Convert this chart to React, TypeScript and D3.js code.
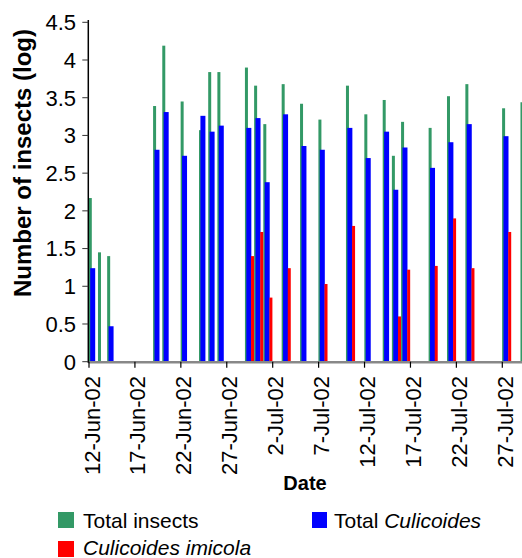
import React from "react";
import * as d3 from "d3";

// Sampling dates and log10 counts per trap night
const sampleDates = [
  "2002-06-12", "2002-06-13", "2002-06-14", "2002-06-19", "2002-06-20",
  "2002-06-22", "2002-06-24", "2002-06-25", "2002-06-26", "2002-06-29",
  "2002-06-30", "2002-07-01", "2002-07-03", "2002-07-05", "2002-07-07",
  "2002-07-10", "2002-07-12", "2002-07-14", "2002-07-15", "2002-07-16",
  "2002-07-19", "2002-07-21", "2002-07-23", "2002-07-27", "2002-07-29",
];
const totalInsects: (number | null)[] = [
  2.17, 1.45, 1.40, 3.39, 4.19, 3.45, 3.07, 3.84, 3.84, 3.90,
  3.66, 3.15, 3.68, 3.42, 3.21, 3.66, 3.28, 3.47, 2.73, 3.18,
  3.10, 3.52, 3.68, 3.36, 3.44,
];
const totalCulicoides: (number | null)[] = [
  1.24, null, 0.47, 2.81, 3.31, 2.73, 3.26, 3.05, 3.13, 3.10,
  3.23, 2.38, 3.28, 2.86, 2.81, 3.10, 2.70, 3.05, 2.28, 2.84,
  2.57, 2.91, 3.15, 2.99, null,
];
const culicoidesImicola: (number | null)[] = [
  null, null, null, null, null, null, null, null, null, 1.40,
  1.72, 0.85, 1.24, null, 1.03, 1.80, null, null, 0.60, 1.22,
  1.27, 1.90, 1.24, 1.72, null,
];
const yTicks = [0, 0.5, 1, 1.5, 2, 2.5, 3, 3.5, 4, 4.5];
const xTickDates = [
  "2002-06-12", "2002-06-17", "2002-06-22", "2002-06-27", "2002-07-02",
  "2002-07-07", "2002-07-12", "2002-07-17", "2002-07-22", "2002-07-27",
];

const W = 522;
const H = 558;
const FONT = "Arial, 'Liberation Sans', Helvetica, sans-serif";

const GREEN = "#339966";
const BLUE = "#0000FF";
const RED = "#FF0000";

const parse = d3.utcParse("%Y-%m-%d");
const fmt = d3.utcFormat("%-d-%b-%y");

const x = d3
  .scaleUtc()
  .domain([parse("2002-06-12")!, parse("2002-07-27")!])
  .range([89, 502.3]);
const y = d3.scaleLinear().domain([0, 4.5]).range([361.7, 22.3]);

const series = [
  { name: "green", values: totalInsects, color: GREEN, dx: -0.2, w: 3 },
  { name: "blue", values: totalCulicoides, color: BLUE, dx: 1.2, w: 5 },
  { name: "red", values: culicoidesImicola, color: RED, dx: 5.9, w: 3 },
];

export default function App() {
  const dates = sampleDates.map((d) => parse(d)!);
  const axisLeft = 88.3;
  const baseY = y(0);

  return (
    <svg
      width={W}
      height={H}
      style={{ position: "absolute", left: 0, top: 0, background: "#fff" }}
      fontFamily={FONT}
    >
      <rect x={0} y={0} width={W} height={H} fill="#fff" />

      {/* bars, drawn series by series so later series overlap earlier ones */}
      {series.map((s) => (
        <g key={s.name}>
          {s.values.map((v, i) =>
            v == null ? null : (
              <rect
                key={i}
                x={x(dates[i]) + s.dx}
                y={y(v)}
                width={s.w}
                height={baseY - y(v)}
                fill={s.color}
              />
            )
          )}
        </g>
      ))}

      {/* x axis */}
      <line x1={axisLeft} x2={W} y1={baseY + 0.5} y2={baseY + 0.5} stroke="#888" strokeWidth={2.5} />
      {xTickDates.map((d) => {
        const px = x(parse(d)!);
        return (
          <g key={d}>
            <line x1={px} x2={px} y1={baseY} y2={baseY + 6} stroke="#000" strokeWidth={1.2} />
            <text
              transform={`translate(${px + 10.5},${376}) rotate(-90)`}
              textAnchor="end"
              fontSize={22}
              fill="#000"
            >
              {fmt(parse(d)!)}
            </text>
          </g>
        );
      })}

      {/* y axis */}
      <line x1={axisLeft} x2={axisLeft} y1={20} y2={baseY + 1} stroke="#000" strokeWidth={1.5} />
      {yTicks.map((t) => (
        <g key={t}>
          <line x1={axisLeft - 6} x2={axisLeft} y1={y(t)} y2={y(t)} stroke="#333" strokeWidth={1} />
          <text x={76} y={y(t) + 7.8} textAnchor="end" fontSize={22} fill="#000">
            {String(t)}
          </text>
        </g>
      ))}

      {/* axis titles */}
      <text
        transform={`translate(31,163) rotate(-90)`}
        textAnchor="middle"
        fontSize={24}
        fontWeight="bold"
        fill="#000"
      >
        Number of insects (log)
      </text>
      <text x={305} y={490} textAnchor="middle" fontSize={20} fontWeight="bold" fill="#000">
        Date
      </text>

      {/* legend */}
      <rect x={58} y={512} width={16} height={16} fill={GREEN} />
      <text x={83} y={527.5} fontSize={21} fill="#000">
        Total insects
      </text>
      <rect x={312} y={512} width={15} height={16} fill={BLUE} />
      <text x={334} y={527.5} fontSize={21} fill="#000">
        Total <tspan fontStyle="italic">Culicoides</tspan>
      </text>
      <rect x={58} y={541} width={16} height={16} fill={RED} />
      <text x={83} y={554.5} fontSize={21} fontStyle="italic" fill="#000">
        Culicoides imicola
      </text>
    </svg>
  );
}
